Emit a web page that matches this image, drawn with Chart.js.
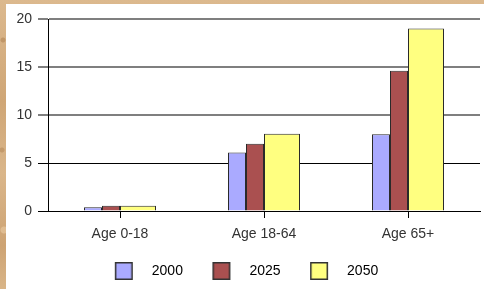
<!DOCTYPE html>
<html>
<head>
<meta charset="utf-8">
<script src="https://cdn.jsdelivr.net/npm/chart.js"></script>
<style>
  html, body { margin: 0; padding: 0; }
  body {
    width: 484px; height: 289px; overflow: hidden; position: relative;
    background-color: #d6b083;
    background-image:
      radial-gradient(circle at 3px 40px, rgba(150,100,50,0.35) 0 2px, transparent 3px),
      radial-gradient(circle at 2px 150px, rgba(150,100,50,0.3) 0 2px, transparent 3px),
      radial-gradient(circle at 4px 230px, rgba(240,210,170,0.5) 0 3px, transparent 4px),
      linear-gradient(180deg, #dcb98e 0%, #cfa676 35%, #dab68a 60%, #cda373 85%, #d9b588 100%);
  }
  #panel { position: absolute; left: 6px; top: 4px; width: 478px; height: 285px; background: #fff; }
  canvas { display: block; }
</style>
</head>
<body>
<div id="panel"><canvas id="c" width="478" height="285"></canvas></div>
<script>
const categories = ['Age 0-18', 'Age 18-64', 'Age 65+'];
const seriesNames = ['2000', '2025', '2050'];
const values2000 = [0.4, 6.1, 8.0];
const values2025 = [0.55, 7.0, 14.6];
const values2050 = [0.55, 8.05, 19.0];
const yTickValues = [0, 5, 10, 15, 20];

const colors = ['#aaaaff', '#aa5050', '#ffff80'];
const edge = '#2a2a2a';

function legendSwatch(fill) {
  const c = document.createElement('canvas');
  c.width = 37; c.height = 18;
  const g = c.getContext('2d');
  g.fillStyle = fill;
  g.fillRect(7, 0, 18, 18);
  g.strokeStyle = '#333';
  g.lineWidth = 1.5;
  g.strokeRect(7.75, 0.75, 16.5, 16.5);
  return c;
}
const swatches = colors.map(legendSwatch);

const font = { family: '"Liberation Sans", Arial, sans-serif', size: 14 };

new Chart(document.getElementById('c'), {
  type: 'bar',
  data: {
    labels: categories,
    datasets: [
      { label: seriesNames[0], data: values2000, backgroundColor: colors[0], borderColor: edge, borderWidth: 1 },
      { label: seriesNames[1], data: values2025, backgroundColor: colors[1], borderColor: edge, borderWidth: 1 },
      { label: seriesNames[2], data: values2050, backgroundColor: colors[2], borderColor: edge,
        borderWidth: { top: 1, left: 1, right: 0, bottom: 0 } },
      { label: seriesNames[2] + ' ', data: values2050, backgroundColor: colors[2], borderColor: edge,
        borderWidth: { top: 1, left: 0, right: 1, bottom: 0 } }
    ]
  },
  options: {
    responsive: false,
    animation: false,
    devicePixelRatio: 1,
    categoryPercentage: 0.5,
    barPercentage: 1,
    layout: { padding: { left: 0, right: 4, top: 15, bottom: 1 } },
    plugins: {
      tooltip: { enabled: false },
      legend: {
        position: 'bottom',
        labels: {
          color: '#333',
          font: font,
          padding: 22.5,
          usePointStyle: true,
          pointStyleWidth: 37,
          generateLabels: (chart) => seriesNames.map((name, i) => ({
            text: name,
            fillStyle: colors[i],
            strokeStyle: '#333',
            lineWidth: 0,
            pointStyle: swatches[i],
            datasetIndex: i,
            hidden: false
          }))
        }
      }
    },
    scales: {
      x: {
        grid: { display: true, drawOnChartArea: false, drawTicks: true, offset: false, tickLength: 7, color: '#000', lineWidth: 1 },
        border: { color: '#000', width: 1 },
        ticks: { color: '#333', font: font, padding: 8 },
        afterFit: (s) => { s.height = 30.5; }
      },
      y: {
        min: 0, max: 20,
        afterBuildTicks: (s) => { s.ticks = yTickValues.map(v => ({ value: v })); },
        grid: {
          tickLength: 10,
          color: (ctx) => (ctx.tick && ctx.tick.value >= 10) ? '#7f7f7f' : '#000',
          lineWidth: (ctx) => (ctx.tick && ctx.tick.value >= 10) ? 2 : 1
        },
        border: { color: '#000', width: 1 },
        ticks: { color: '#333', font: font, padding: 6 },
        afterFit: (s) => { s.width = 42; }
      }
    }
  }
});
</script>
</body>
</html>
